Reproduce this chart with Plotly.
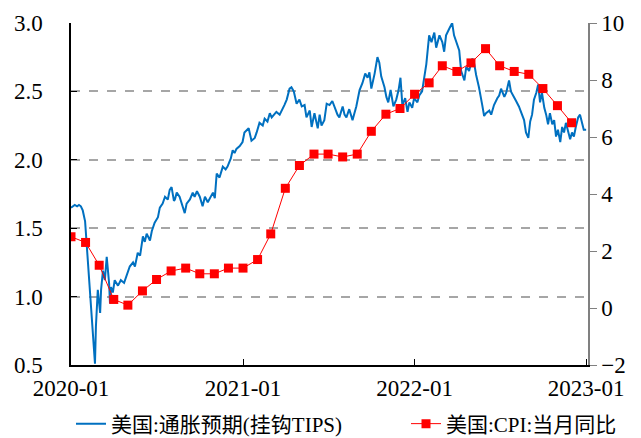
import plotly.graph_objects as go

# ---- data ----
tips_dates = [
"2020-01-01","2020-01-05","2020-01-09","2020-01-14","2020-01-18","2020-01-22","2020-01-26","2020-01-31",
"2020-02-02","2020-02-06","2020-02-10","2020-02-12","2020-02-17","2020-02-21","2020-02-23","2020-02-27",
"2020-03-03","2020-03-05","2020-03-09","2020-03-13","2020-03-17","2020-03-22","2020-03-24","2020-03-26","2020-03-30",
"2020-04-03","2020-04-10","2020-04-16","2020-04-23","2020-04-27","2020-05-01","2020-05-05","2020-05-12","2020-05-16",
"2020-05-22","2020-05-27","2020-06-02","2020-06-06","2020-06-10","2020-06-17","2020-06-21","2020-06-27",
"2020-07-04","2020-07-08","2020-07-14","2020-07-19","2020-07-25","2020-07-29","2020-08-02","2020-08-07",
"2020-08-09","2020-08-13","2020-08-19","2020-08-26","2020-08-30","2020-09-03","2020-09-10","2020-09-16",
"2020-09-20","2020-09-25","2020-10-01","2020-10-07","2020-10-12","2020-10-18","2020-10-24","2020-10-29",
"2020-11-02","2020-11-06","2020-11-12","2020-11-19","2020-11-25","2020-11-29","2020-12-06","2020-12-10",
"2020-12-14","2020-12-18","2020-12-25","2020-12-31",
"2021-01-04","2021-01-09","2021-01-13","2021-01-19","2021-01-26","2021-01-30","2021-02-05","2021-02-12",
"2021-02-16","2021-02-22","2021-02-27","2021-03-03","2021-03-09","2021-03-13","2021-03-20","2021-03-26",
"2021-03-30","2021-04-04","2021-04-10","2021-04-14","2021-04-19","2021-04-25","2021-05-01","2021-05-06",
"2021-05-12","2021-05-16","2021-05-23","2021-05-27","2021-06-02","2021-06-09","2021-06-13","2021-06-17",
"2021-06-23","2021-06-28","2021-07-04","2021-07-10","2021-07-15","2021-07-21","2021-07-25","2021-08-01",
"2021-08-05","2021-08-09","2021-08-15","2021-08-22","2021-08-26","2021-08-30","2021-09-06","2021-09-12",
"2021-09-18","2021-09-23","2021-09-27","2021-10-01","2021-10-08","2021-10-14","2021-10-18","2021-10-22",
"2021-10-29","2021-11-02","2021-11-06","2021-11-11","2021-11-17","2021-11-23","2021-11-28","2021-12-02",
"2021-12-06","2021-12-12","2021-12-17","2021-12-21","2021-12-27","2021-12-31",
"2022-01-07","2022-01-11","2022-01-17","2022-01-22","2022-01-26","2022-02-01","2022-02-06","2022-02-12",
"2022-02-16","2022-02-23","2022-03-01","2022-03-05","2022-03-09","2022-03-16","2022-03-22","2022-03-26",
"2022-03-31","2022-04-06","2022-04-10","2022-04-17","2022-04-21","2022-04-27","2022-05-04","2022-05-08",
"2022-05-12","2022-05-18","2022-05-25","2022-05-29","2022-06-02","2022-06-09","2022-06-13","2022-06-19",
"2022-06-26","2022-06-30","2022-07-04","2022-07-11","2022-07-15","2022-07-21","2022-07-25","2022-08-01",
"2022-08-05","2022-08-11","2022-08-18","2022-08-22","2022-08-26","2022-08-31","2022-09-04","2022-09-08",
"2022-09-12","2022-09-17","2022-09-21","2022-09-25","2022-09-29","2022-10-04","2022-10-08","2022-10-12",
"2022-10-16","2022-10-21","2022-10-25","2022-10-29","2022-11-02","2022-11-07","2022-11-11","2022-11-15",
"2022-11-19","2022-11-23","2022-11-28","2022-12-02","2022-12-06","2022-12-10","2022-12-15","2022-12-19",
"2022-12-23","2022-12-27","2023-01-01",
]
tips_values = [
1.65,1.66,1.67,1.66,1.67,1.66,1.63,1.55,
1.45,1.25,1.05,0.92,0.70,0.51,0.78,1.05,
0.88,1.05,1.19,1.12,1.29,1.10,0.95,1.07,1.03,
1.12,1.08,1.12,1.10,1.14,1.18,1.22,1.25,1.22,
1.32,1.30,1.44,1.40,1.46,1.41,1.48,1.54,
1.58,1.65,1.68,1.73,1.71,1.78,1.80,1.70,
1.71,1.76,1.73,1.65,1.61,1.68,1.71,1.76,
1.73,1.77,1.73,1.66,1.73,1.69,1.73,1.76,
1.72,1.90,1.87,1.95,1.93,1.95,2.01,2.07,
2.05,2.08,2.10,2.13,
2.20,2.22,2.23,2.14,2.16,2.20,2.27,2.25,
2.30,2.28,2.34,2.31,2.33,2.35,2.33,2.38,
2.40,2.44,2.52,2.53,2.50,2.41,2.44,2.39,
2.40,2.31,2.36,2.24,2.34,2.23,2.33,2.25,
2.29,2.41,2.40,2.43,2.38,2.33,2.31,2.39,
2.33,2.31,2.37,2.29,2.34,2.39,2.51,2.56,
2.63,2.60,2.64,2.52,2.63,2.75,2.71,2.61,
2.53,2.46,2.42,2.51,2.39,2.44,2.51,2.60,
2.40,2.45,2.35,2.42,2.38,2.45,
2.42,2.47,2.50,2.62,2.70,2.91,2.86,2.93,
2.82,2.91,2.86,2.79,2.91,2.96,3.00,2.91,
2.86,2.80,2.65,2.58,2.68,2.65,2.74,2.70,
2.62,2.53,2.40,2.32,2.34,2.36,2.33,2.40,
2.45,2.47,2.52,2.46,2.49,2.58,2.50,2.46,
2.43,2.39,2.33,2.29,2.20,2.16,2.28,2.33,
2.44,2.49,2.55,2.42,2.49,2.38,2.33,2.26,
2.34,2.26,2.29,2.17,2.22,2.13,2.24,2.20,
2.27,2.22,2.15,2.20,2.17,2.24,2.31,2.33,
2.28,2.22,2.22,
]

cpi_months = [
"2020-01-01","2020-02-01","2020-03-01","2020-04-01","2020-05-01","2020-06-01",
"2020-07-01","2020-08-01","2020-09-01","2020-10-01","2020-11-01","2020-12-01",
"2021-01-01","2021-02-01","2021-03-01","2021-04-01","2021-05-01","2021-06-01",
"2021-07-01","2021-08-01","2021-09-01","2021-10-01","2021-11-01","2021-12-01",
"2022-01-01","2022-02-01","2022-03-01","2022-04-01","2022-05-01","2022-06-01",
"2022-07-01","2022-08-01","2022-09-01","2022-10-01","2022-11-01","2022-12-01",
]
cpi_values = [
2.5,2.3,1.5,0.3,0.1,0.6,1.0,1.3,1.4,1.2,1.2,1.4,
1.4,1.7,2.6,4.2,5.0,5.4,5.4,5.3,5.4,6.2,6.8,7.0,
7.5,7.9,8.5,8.3,8.6,9.1,8.5,8.3,8.2,7.7,7.1,6.5,
]

left_ticks = [0.5, 1.0, 1.5, 2.0, 2.5, 3.0]
right_ticks = [-2, 0, 2, 4, 6, 8, 10]
x_ticks = ["2020-01-01", "2021-01-01", "2022-01-01", "2023-01-01"]
x_labels = ["2020-01", "2021-01", "2022-01", "2023-01"]

FONT = "Liberation Serif, Times New Roman, Noto Sans CJK SC, serif"
TICK_FONT = dict(family=FONT, size=23, color="black")
LEG_FONT = dict(family=FONT, size=21, color="black")

fig = go.Figure()
fig.add_trace(go.Scatter(
    x=tips_dates, y=tips_values, mode="lines",
    name="美国:通胀预期(挂钩TIPS)",
    line=dict(color="#0070C0", width=2),
    yaxis="y", legend="legend",
))
fig.add_trace(go.Scatter(
    x=cpi_months, y=cpi_values, mode="lines+markers",
    name="美国:CPI:当月同比",
    line=dict(color="#FF0000", width=1),
    marker=dict(symbol="square", size=9, color="#FF0000"),
    yaxis="y2", legend="legend2",
))

leg_common = dict(
    orientation="h", xref="container", yref="container",
    xanchor="left", y=0.032, yanchor="middle",
    font=LEG_FONT, bgcolor="rgba(0,0,0,0)",
)

fig.update_layout(
    width=641, height=438,
    margin=dict(l=71, r=53, t=23, b=73, autoexpand=False),
    paper_bgcolor="white", plot_bgcolor="white",
    font=dict(family=FONT, size=20, color="black"),
    showlegend=True,
    legend=dict(x=71 / 641, **leg_common),
    legend2=dict(x=406 / 641, **leg_common),
    xaxis=dict(
        type="date", range=["2020-01-01", "2023-01-05"],
        tickvals=x_ticks, ticktext=x_labels,
        ticks="inside", ticklen=6, tickcolor="black", tickwidth=1,
        showline=True, linecolor="black", linewidth=1.5,
        showgrid=False, zeroline=False, automargin=False,
        ticklabelstandoff=2,
        tickfont=TICK_FONT,
    ),
    yaxis=dict(
        range=[0.5, 3.0], tickvals=left_ticks,
        tickformat=".1f",
        ticks="inside", ticklen=6, tickcolor="black",
        showline=True, linecolor="black", linewidth=1.5,
        showgrid=True, gridcolor="#A6A6A6", griddash="dash", gridwidth=1.5,
        zeroline=False, ticklabelstandoff=22, automargin=False,
        tickfont=TICK_FONT,
    ),
    yaxis2=dict(
        range=[-2, 10], tickvals=right_ticks,
        overlaying="y", side="right",
        ticks="outside", ticklen=7, tickcolor="#808080",
        showline=True, linecolor="#808080", linewidth=1.5,
        showgrid=False, zeroline=False, automargin=False,
        ticklabelstandoff=0,
        tickfont=TICK_FONT,
    ),
)

fig.write_html(
    "out.html",
    config={"displayModeBar": False},
    post_script="document.body.style.margin='0';document.body.style.padding='0';",
)
